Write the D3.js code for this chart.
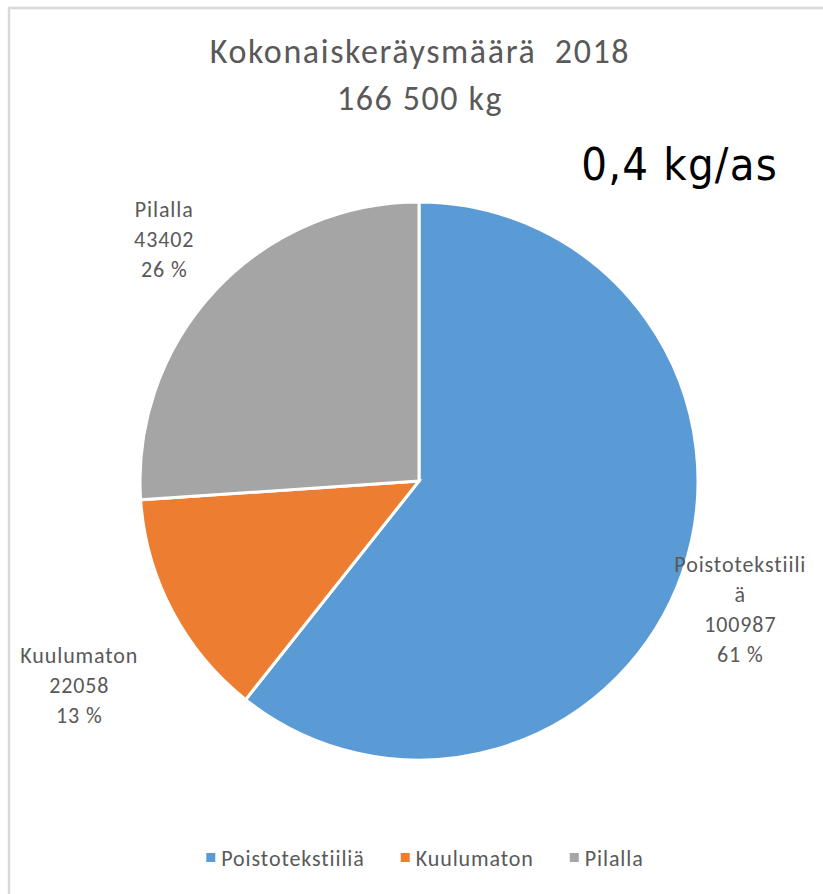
<!DOCTYPE html>
<html>
<head>
<meta charset="utf-8">
<script src="https://cdn.jsdelivr.net/npm/d3@7"></script>
<style>
  html, body { margin: 0; padding: 0; background: #fff; }
  text { white-space: pre; }
</style>
</head>
<body>
<div id="chart"></div>
<script>
// datos
const categories = ["Poistotekstiiliä", "Kuulumaton", "Pilalla"];
const values = [100987, 22058, 43402];
const percents = ["61 %", "13 %", "26 %"];
// etiquetas tal como aparecen (con el corte de línea original)
const labelLines = [["Poistotekstiili", "ä"], ["Kuulumaton"], ["Pilalla"]];
const colors = ["#5B9BD5", "#ED7D31", "#A5A5A5"];

const titleLines = ["Kokonaiskeräysmäärä  2018", "166 500 kg"];
const perCapita = "0,4 kg/as";

const width = 823, height = 894;
const cx = 419, cy = 481, radius = 279;
const font = "Carlito, Calibri, Lato, 'Noto Sans', sans-serif";

const svg = d3.select("#chart").append("svg")
    .attr("width", width)
    .attr("height", height);

// marco del gráfico
svg.append("rect")
    .attr("x", 9).attr("y", 8)
    .attr("width", width + 20).attr("height", height + 20)
    .attr("fill", "#fff")
    .attr("stroke", "#d9d9d9")
    .attr("stroke-width", 2.5);

// título
svg.append("text")
    .attr("x", cx)
    .attr("y", 63)
    .attr("text-anchor", "middle")
    .attr("font-family", font)
    .attr("font-size", 34)
    .attr("letter-spacing", 1.6)
    .attr("fill", "#595959")
    .selectAll("tspan")
    .data(titleLines)
    .enter().append("tspan")
    .attr("x", cx + 1)
    .attr("dy", (d, i) => i === 0 ? 0 : 47)
    .text(d => d);

svg.append("text")
    .attr("x", 778)
    .attr("y", 180)
    .attr("text-anchor", "end")
    .attr("font-family", "'Liberation Sans Narrow', 'DejaVu Sans Condensed', sans-serif")
    .attr("font-size", 45)
    .attr("letter-spacing", 1.2)
    .attr("fill", "#000")
    .text(perCapita);

const data = categories.map((c, i) => ({ name: c, value: values[i], pct: percents[i], lines: labelLines[i], color: colors[i] }));

const pie = d3.pie().sort(null).value(d => d.value);
const arcs = pie(data);

const arc = d3.arc().innerRadius(0).outerRadius(radius);
const outerArc = d3.arc().innerRadius(radius * 1.25).outerRadius(radius * 1.25);

const g = svg.append("g").attr("transform", `translate(${cx},${cy})`);

g.selectAll("path")
    .data(arcs)
    .enter().append("path")
    .attr("d", arc)
    .attr("fill", d => d.data.color)
    .attr("stroke", "#fff")
    .attr("stroke-width", 3)
    .attr("stroke-linejoin", "miter");

// ajustes de posición de las etiquetas (px)
const nudge = [[-8, 14], [-31, 43], [0, -3]];
const lineH = 30;

g.selectAll("text.lbl")
    .data(arcs)
    .enter().append("text")
    .attr("class", "lbl")
    .attr("text-anchor", "middle")
    .attr("font-family", font)
    .attr("font-size", 22)
    .attr("letter-spacing", 0.9)
    .attr("fill", "#595959")
    .each(function (d, i) {
        const c = outerArc.centroid(d);
        const lines = d.data.lines.concat([String(d.data.value), d.data.pct]);
        const x = c[0] + nudge[i][0];
        const y0 = c[1] + nudge[i][1] - (lines.length - 1) * lineH / 2 + 7;
        d3.select(this).selectAll("tspan")
            .data(lines)
            .enter().append("tspan")
            .attr("x", x)
            .attr("y", (t, j) => y0 + j * lineH)
            .text(t => t);
    });

// leyenda
const legend = svg.append("g").attr("transform", "translate(0,866)");
const items = legend.selectAll("g")
    .data(data)
    .enter().append("g");
items.append("rect")
    .attr("width", 9).attr("height", 9)
    .attr("y", -13)
    .attr("fill", d => d.color);
items.append("text")
    .attr("x", 15)
    .attr("font-family", font)
    .attr("font-size", 22)
    .attr("letter-spacing", 0.9)
    .attr("fill", "#595959")
    .text(d => d.name);

// espaciado de la leyenda centrada
let xs = [], total = 0;
const gap = 36;
items.each(function () {
    const w = this.getBBox().width;
    xs.push(total);
    total += w + gap;
});
total -= gap;
const start = 425 - total / 2;
items.attr("transform", (d, i) => `translate(${start + xs[i]},0)`);
</script>
</body>
</html>
